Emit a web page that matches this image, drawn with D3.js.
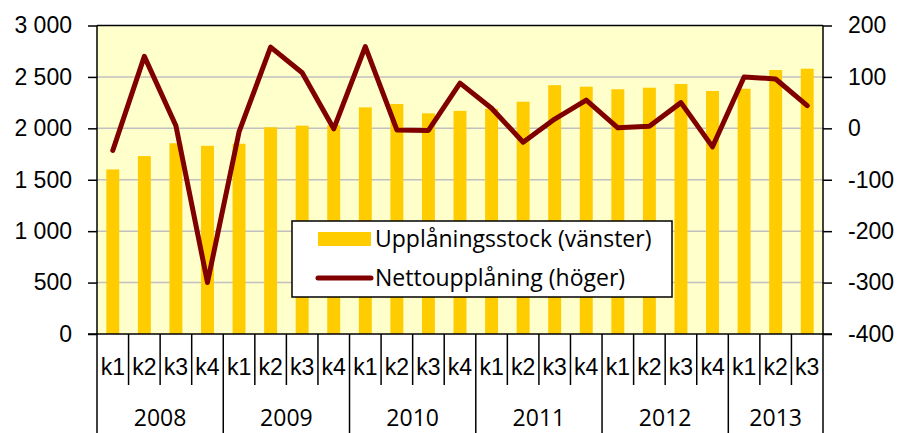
<!DOCTYPE html>
<html>
<head>
<meta charset="utf-8">
<script src="https://cdn.jsdelivr.net/npm/d3@7"></script>
<style>
  body { margin: 0; background: #fff; }
  svg { display: block; font-family: "Open Sans", sans-serif; }
  .axis path, .axis line { stroke: #000; stroke-width: 1.5px; }
  .axis text { font-size: 23px; fill: #000; }
</style>
</head>
<body>
<svg width="898" height="433"></svg>
<script>
// quarters and years along the bottom
var quarters = ["k1","k2","k3","k4","k1","k2","k3","k4","k1","k2","k3","k4",
                "k1","k2","k3","k4","k1","k2","k3","k4","k1","k2","k3"];
var years = ["2008", "2009", "2010", "2011", "2012", "2013"];
var quartersPerYear = [4, 4, 4, 4, 4, 3];

// Upplåningsstock (vänster), left axis
var stock = [1600, 1730, 1855, 1830, 1850, 2010, 2026, 2030, 2204, 2237, 2146, 2170,
             2190, 2259, 2420, 2405, 2380, 2395, 2431, 2363, 2385, 2567, 2580];
// Nettoupplåning (höger), right axis
var netto = [-43, 140, 5, -300, -7, 158, 108, -1, 159, -3, -4, 88,
             39, -27, 18, 55, 1, 4, 50, -36, 100, 96, 44];

var leftTicks = [0, 500, 1000, 1500, 2000, 2500, 3000];
var rightTicks = [-400, -300, -200, -100, 0, 100, 200];

var svg = d3.select("svg"),
    margin = {top: 25.5, right: 75, bottom: 99, left: 97},
    width = +svg.attr("width") - margin.left - margin.right,
    height = +svg.attr("height") - margin.top - margin.bottom;

var idx = quarters.map(function(d, i) { return i; });

var x = d3.scaleBand().domain(idx).range([0, width]).padding(0),
    yL = d3.scaleLinear().domain([0, 3000]).range([height, 0]),
    yR = d3.scaleLinear().domain([-400, 200]).range([height, 0]);

var fmt = d3.formatLocale({decimal: ",", thousands: "\u00a0", grouping: [3], currency: ["", " kr"]}).format(",d");
var fmtR = function(d) { return d; };

var g = svg.append("g")
    .attr("transform", "translate(" + margin.left + "," + margin.top + ")");

// plot background
g.append("rect")
    .attr("width", width)
    .attr("height", height)
    .attr("fill", "#ffffcc");

// gridlines
g.append("g")
  .selectAll("line")
  .data(leftTicks.filter(function(d) { return d > 0 && d < 3000; }))
  .enter().append("line")
    .attr("x1", 0)
    .attr("x2", width)
    .attr("y1", function(d) { return yL(d); })
    .attr("y2", function(d) { return yL(d); })
    .attr("stroke", "#c0c0c0")
    .attr("stroke-width", 1.5);

// bars
var barW = x.bandwidth() * 0.41;
g.append("g")
  .selectAll("rect")
  .data(stock)
  .enter().append("rect")
    .attr("x", function(d, i) { return x(i) + (x.bandwidth() - barW) / 2; })
    .attr("y", function(d) { return yL(d); })
    .attr("width", barW)
    .attr("height", function(d) { return height - yL(d); })
    .attr("fill", "#ffcc00");

// line
var line = d3.line()
    .x(function(d, i) { return x(i) + x.bandwidth() / 2; })
    .y(function(d) { return yR(d); });

g.append("path")
    .datum(netto)
    .attr("d", line)
    .attr("fill", "none")
    .attr("stroke", "#800000")
    .attr("stroke-width", 5)
    .attr("stroke-linejoin", "round")
    .attr("stroke-linecap", "round");

// top border
g.append("line")
    .attr("x1", 0).attr("x2", width)
    .attr("y1", 0).attr("y2", 0)
    .attr("stroke", "#000").attr("stroke-width", 1.5);

// left axis
g.append("g")
    .attr("class", "axis")
    .call(d3.axisLeft(yL).tickValues(leftTicks).tickFormat(fmt).tickSize(9).tickSizeOuter(0).tickPadding(16))
    .call(function(a) { a.select(".domain").remove(); });
g.append("line")
    .attr("x1", 0).attr("x2", 0).attr("y1", 0).attr("y2", height + margin.bottom)
    .attr("stroke", "#000").attr("stroke-width", 1.5);

// right axis
g.append("g")
    .attr("class", "axis")
    .attr("transform", "translate(" + width + ",0)")
    .call(d3.axisRight(yR).tickValues(rightTicks).tickFormat(fmtR).tickSize(9).tickSizeOuter(0).tickPadding(16))
    .call(function(a) { a.select(".domain").remove(); });
g.append("line")
    .attr("x1", width).attr("x2", width).attr("y1", 0).attr("y2", height + margin.bottom)
    .attr("stroke", "#000").attr("stroke-width", 1.5);

// bottom axis: base line
g.append("line")
    .attr("x1", -9).attr("x2", width + 9)
    .attr("y1", height).attr("y2", height)
    .attr("stroke", "#000").attr("stroke-width", 1.5);

// quarter labels
var xa = g.append("g")
    .attr("class", "axis")
    .attr("transform", "translate(0," + height + ")")
    .call(d3.axisBottom(x).tickFormat(function(i) { return quarters[i]; }).tickSize(0).tickPadding(25))
    .call(function(a) { a.select(".domain").remove(); });

// separators between quarters and years
var yearStart = [0];
quartersPerYear.forEach(function(n, k) { yearStart.push(yearStart[k] + n); });

g.append("g")
  .selectAll("line")
  .data(d3.range(1, quarters.length))
  .enter().append("line")
    .attr("x1", function(i) { return x(i); })
    .attr("x2", function(i) { return x(i); })
    .attr("y1", height)
    .attr("y2", function(i) { return yearStart.indexOf(i) >= 0 ? height + margin.bottom : height + 51; })
    .attr("stroke", "#000")
    .attr("stroke-width", 1.5);

// year labels
g.append("g")
  .selectAll("text")
  .data(years)
  .enter().append("text")
    .attr("x", function(d, k) {
      var a = x(yearStart[k]), b = yearStart[k + 1] < quarters.length ? x(yearStart[k + 1]) : width;
      return (a + b) / 2;
    })
    .attr("y", height + 85)
    .attr("dy", "0.32em")
    .attr("text-anchor", "middle")
    .style("font-size", "23px")
    .text(function(d) { return d; });

// legend
var leg = svg.append("g").attr("transform", "translate(292,221)");
leg.append("rect")
    .attr("width", 380)
    .attr("height", 76)
    .attr("fill", "#fff")
    .attr("stroke", "#000")
    .attr("stroke-width", 1.5);
leg.append("rect")
    .attr("x", 26).attr("y", 11)
    .attr("width", 53).attr("height", 14)
    .attr("fill", "#ffcc00");
leg.append("line")
    .attr("x1", 26).attr("x2", 79)
    .attr("y1", 57).attr("y2", 57)
    .attr("stroke", "#800000").attr("stroke-width", 5)
    .attr("stroke-linecap", "round");
leg.append("text")
    .attr("x", 83).attr("y", 18).attr("dy", "0.35em")
    .style("font-size", "23px")
    .text("Upplåningsstock (vänster)");
leg.append("text")
    .attr("x", 83).attr("y", 57).attr("dy", "0.35em")
    .style("font-size", "23px")
    .text("Nettoupplåning (höger)");
</script>
</body>
</html>
